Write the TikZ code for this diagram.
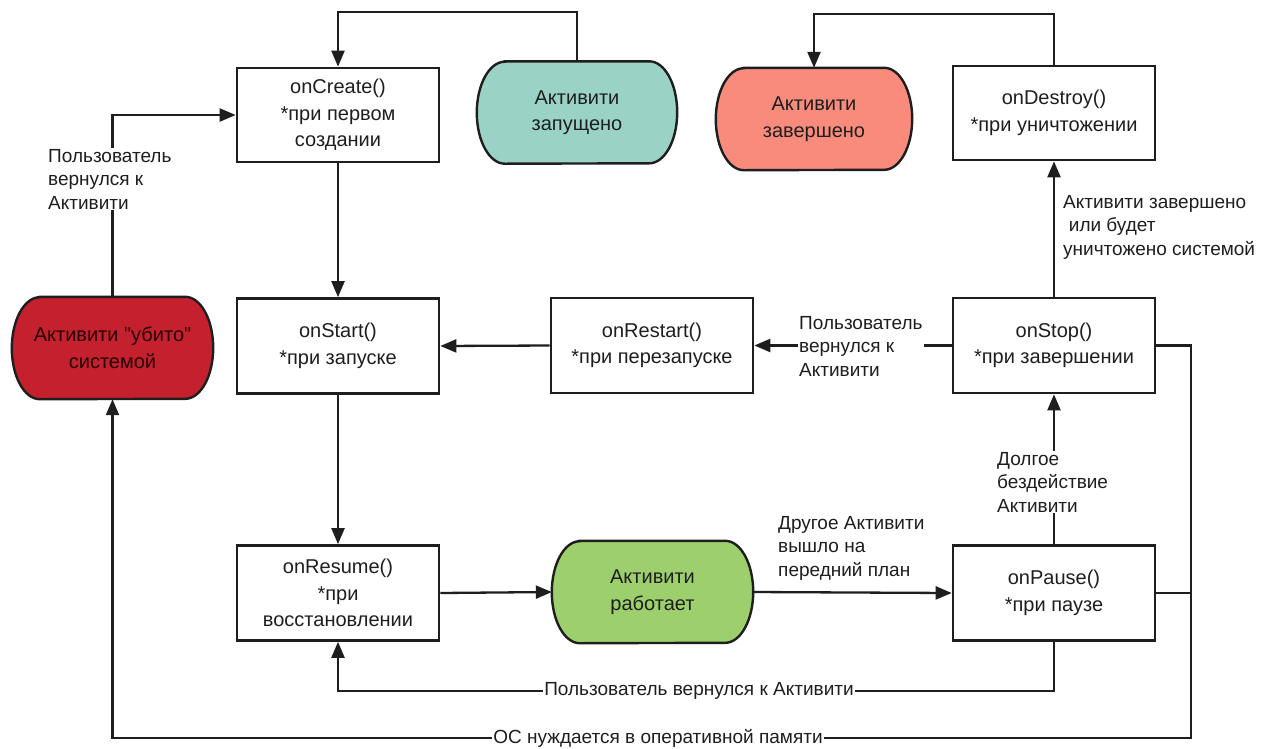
\documentclass[tikz,border=0pt]{standalone}
\usepackage{fontspec}
\setmainfont{Liberation Sans}
\usetikzlibrary{arrows.meta,backgrounds}

\definecolor{ink}{HTML}{1E1E1E}
\definecolor{tealfill}{HTML}{9AD3C5}
\definecolor{salmonfill}{HTML}{F98B7D}
\definecolor{killfill}{HTML}{C5202E}
\definecolor{runfill}{HTML}{9DD06D}

\tikzset{
  every node/.style={font=\fontsize{20}{26.5}\selectfont, text=ink},
  stepbox/.style={draw=ink, line width=2.7pt, fill=white, minimum width=202pt,
    minimum height=95pt, inner sep=0pt, align=center},
  statebox/.style={minimum height=102pt, inner sep=0pt, align=center},
  lbl/.style={font=\fontsize{19}{23.5}\selectfont, align=left, fill=white, inner sep=1pt},
  flow/.style={draw=ink, line width=2.3pt, -{Triangle[length=16pt,width=13pt]}},
  plain/.style={draw=ink, line width=2.3pt},
}

% outline of a state node: straight top and bottom, half-elliptic ends
\newcommand{\stadiumshape}[2]{%
  \path[draw=ink, line width=2.4pt, fill=#2]
    ([xshift=28pt]#1.north west) -- ([xshift=-28pt]#1.north east)
    arc[start angle=90, end angle=-90, x radius=28pt, y radius=51pt]
    -- ([xshift=28pt]#1.south west)
    arc[start angle=270, end angle=90, x radius=28pt, y radius=51pt] -- cycle;}

\begin{document}
\begin{tikzpicture}[x=1pt, y=-1pt]
  \useasboundingbox (0,0) rectangle (1278,748);

  % lifecycle callbacks
  \node[stepbox, minimum height=94pt] (create) at (338,115) {onCreate()\\*при первом\\создании};
  \node[stepbox] (start)   at (338,346)   {onStart()\\*при запуске};
  \node[stepbox] (resume)  at (338,593)   {onResume()\\*при\\восстановлении};
  \node[stepbox] (restart) at (652,345.5) {onRestart()\\*при перезапуске};
  \node[stepbox] (stop)    at (1054,345.5) {onStop()\\*при завершении};
  \node[stepbox] (pause)   at (1054,593)  {onPause()\\*при паузе};
  \node[stepbox, minimum height=94pt] (destroy) at (1054,113) {onDestroy()\\*при уничтожении};

  % activity states
  \node[statebox, minimum width=200pt] (launched) at (577,112.5) {Активити\\запущено};
  \node[statebox, minimum width=196pt] (finished) at (814,119)   {Активити\\завершено};
  \node[statebox, minimum width=201pt, text=black!85!red] (killed) at (112.5,348) {Активити \textquotedbl убито\textquotedbl\\системой};
  \node[statebox, minimum width=201pt] (running)  at (652.5,592) {Активити\\работает};

  \begin{scope}[on background layer]
    \fill[white] (0,0) rectangle (1278,748);
    \stadiumshape{launched}{tealfill}
    \stadiumshape{finished}{salmonfill}
    \stadiumshape{killed}{killfill}
    \stadiumshape{running}{runfill}
  \end{scope}

  % bend points of the routed connectors
  \coordinate (topA) at (338,12);
  \coordinate (topB) at (814,14);
  \coordinate (backBottom) at (700,691);
  \coordinate (osCorner) at (1191,738);

  % connectors
  \draw[flow] (launched.north) |- (topA) -- (create.north);
  \draw[flow] (destroy.north) |- (topB) -- (finished.north);
  \draw[flow] (killed.north) |- (create.west);
  \draw[flow] (create.south) -- (start.north);
  \draw[flow] (start.south) -- (resume.north);
  \draw[flow] (restart.west) -- (start.east);
  \draw[flow] (stop.west) -- (restart.east);
  \draw[flow] (resume.east) -- (running.west);
  \draw[flow] (running.east) -- (pause.west);
  \draw[flow] (pause.north) -- (stop.south);
  \draw[flow] (stop.north) -- (destroy.south);
  \draw[flow] (pause.south) |- (backBottom) -| (resume.south);
  \draw[flow] (stop.east) -| (osCorner) -| (killed.south);
  \draw[plain] (pause.east) -- (pause.east -| osCorner);

  % transition labels
  \node[lbl, anchor=west] (lReturnTop) at (47,179) {Пользователь\\вернулся к\\Активити};
  \node[lbl, anchor=west] (lReturnMid) at (798,346) {Пользователь\\вернулся к\\Активити};
  \node[lbl, anchor=west] (lFinish) at (1062,227) {Активити завершено\\\hspace*{0.3em}или будет\\уничтожено системой};
  \node[lbl, anchor=west] (lIdle) at (996,482) {Долгое\\бездействие\\Активити};
  \node[lbl, anchor=west, fill=none] (lOther) at (777,548) {Другое Активити\\вышло на\\передний план};
  \node[lbl] (lReturnLow) at (699,691) {Пользователь вернулся к Активити};
  \node[lbl] (lMemory) at (658,738) {ОС нуждается в оперативной памяти};
\end{tikzpicture}
\end{document}
